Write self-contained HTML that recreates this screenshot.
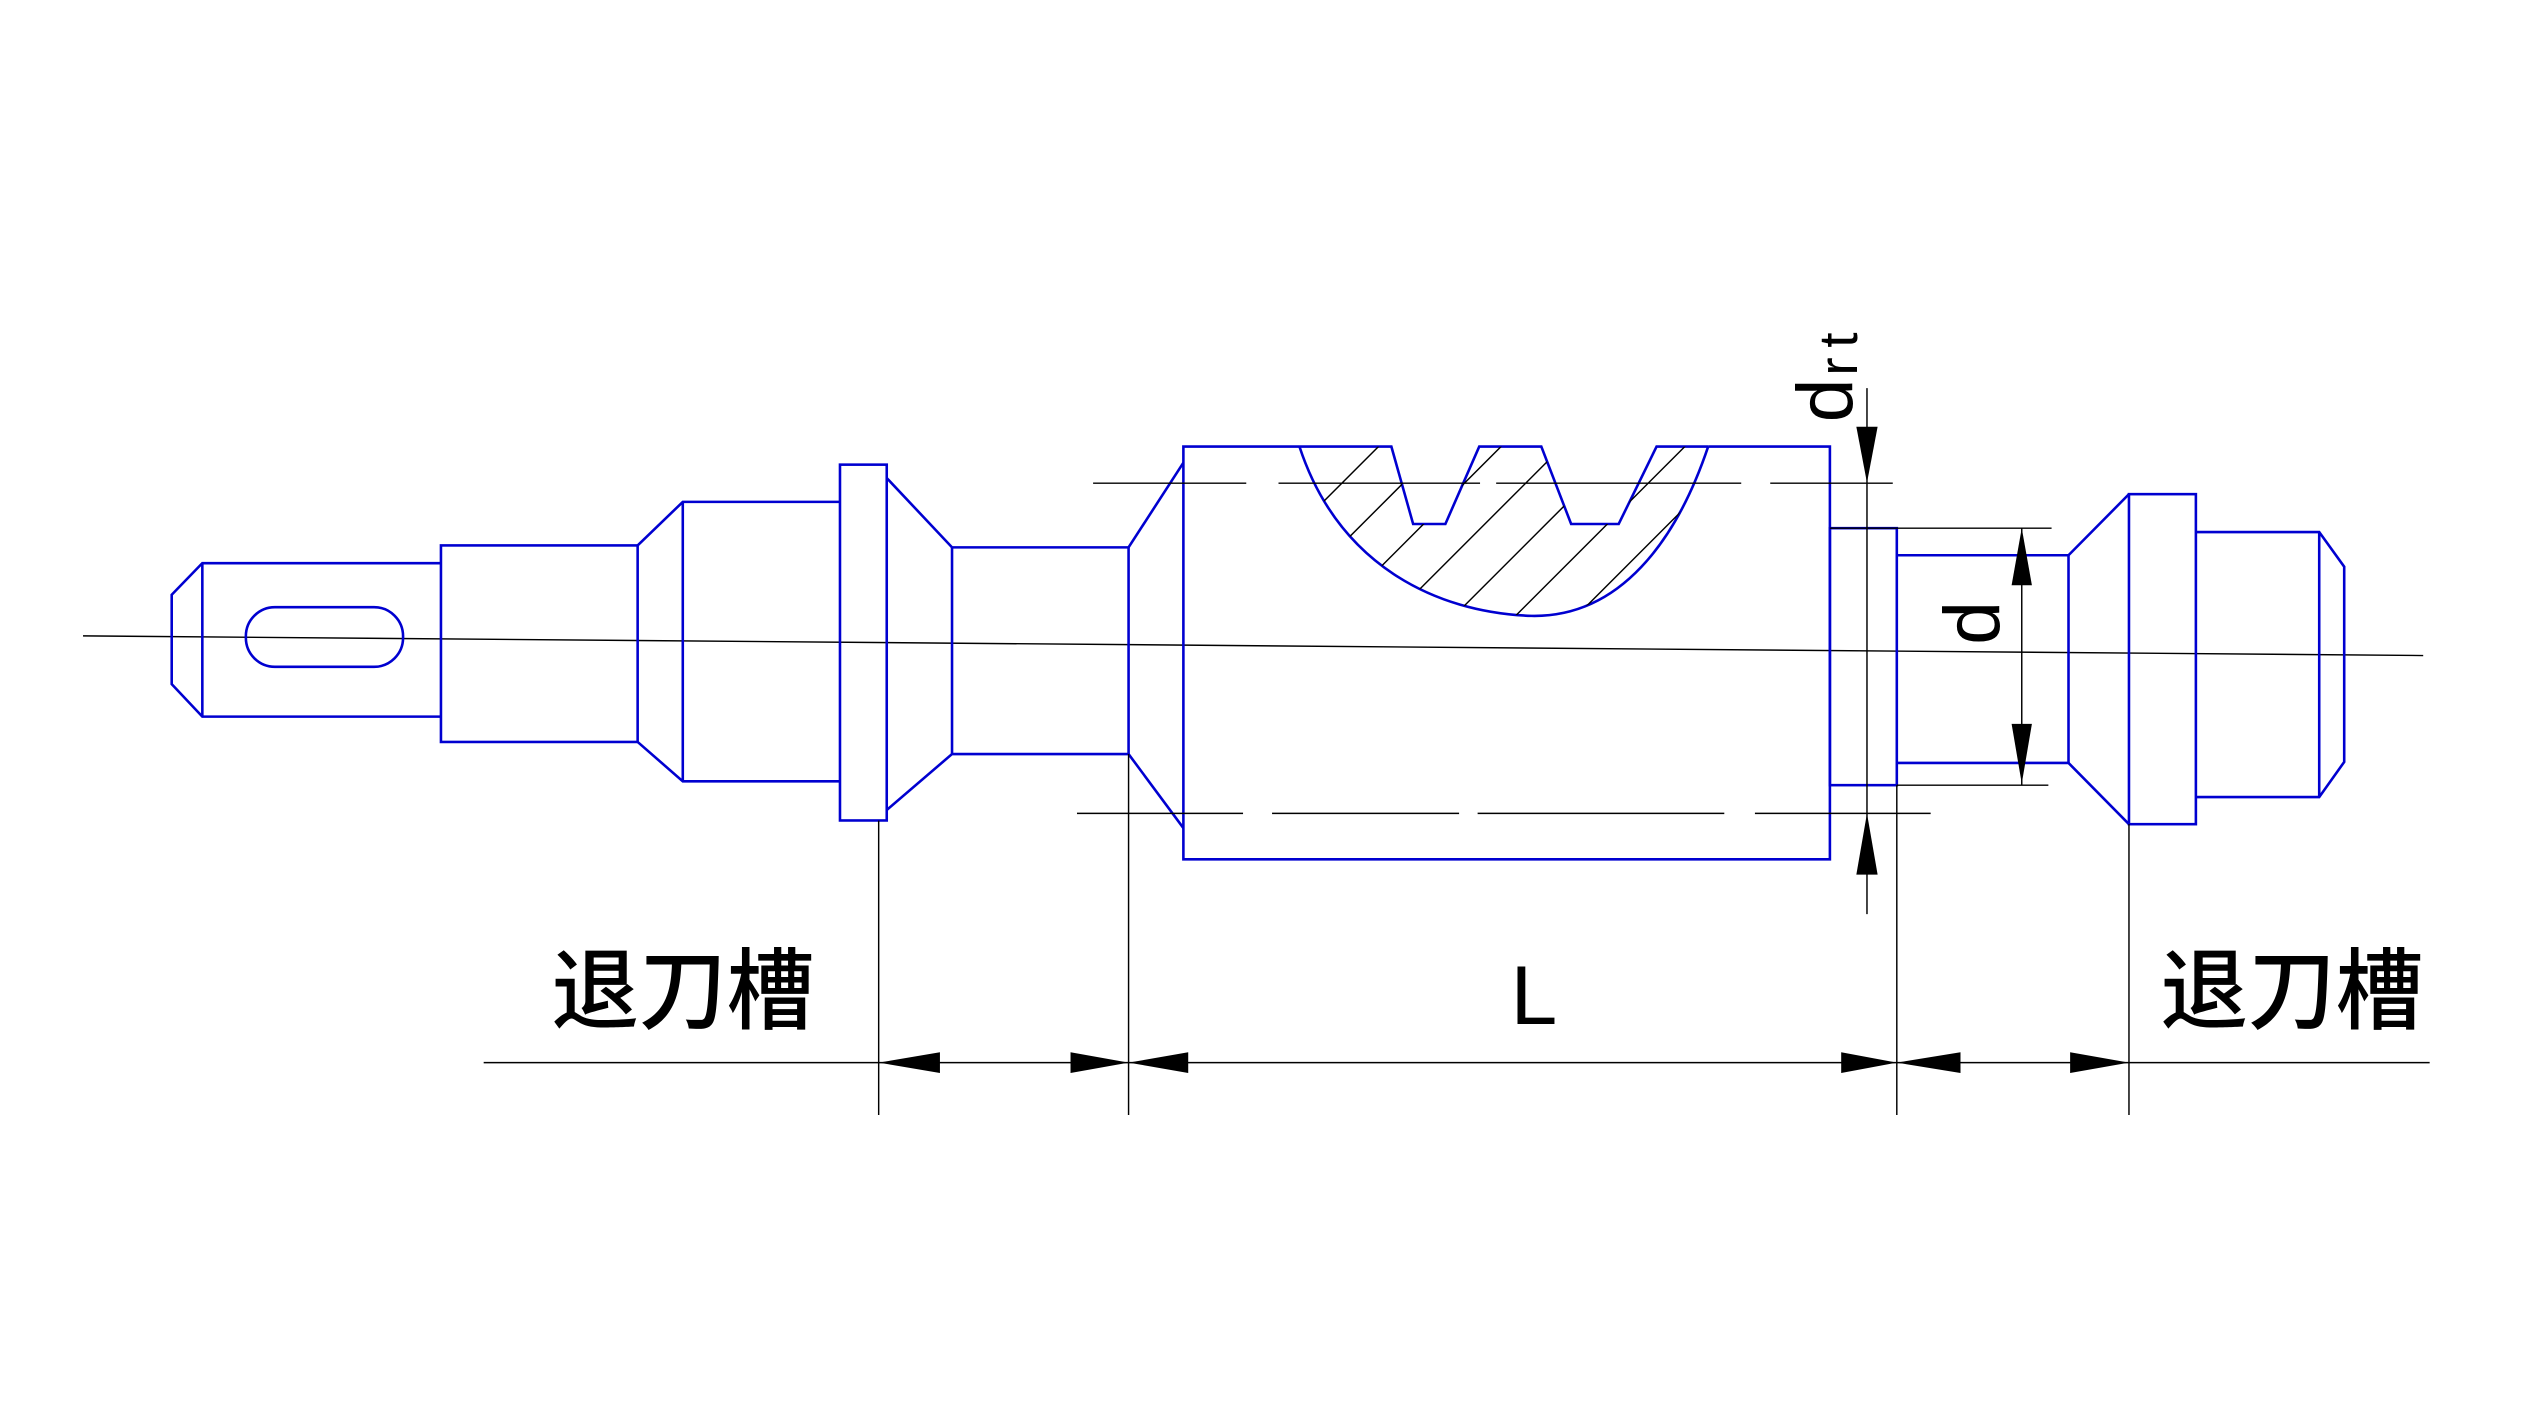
<!DOCTYPE html>
<html><head><meta charset="utf-8"><style>html,body{margin:0;padding:0;background:#fff}svg{display:block}</style></head>
<body>
<svg width="2528" height="1422" viewBox="0 0 1568 882" xmlns="http://www.w3.org/2000/svg">
<rect width="1568" height="882" fill="#fff"/>
<defs>
<clipPath id="sec"><path d="M806,277 L863,277 L876.5,325 L896.5,325 L917.5,277 L956,277 L974.5,325 L1004,325 L1027.5,277 L1059.5,277 C1040,335 1005,383 950,382 C890,380 830,350 806,277 Z"/></clipPath>
</defs>
<line x1="51.5" y1="394.4" x2="1503" y2="406.6" stroke="#000" stroke-width="0.9"/>
<g fill="none" stroke="#0000d0" stroke-width="1.6" stroke-linejoin="miter">
<polyline points="273.5,349.3 125.5,349.3 106.5,368.9 106.5,424.3 125.5,444.5 273.5,444.5"/>
<line x1="125.5" y1="349.3" x2="125.5" y2="444.5"/>
<rect x="152.5" y="376.6" width="97.5" height="37" rx="18" ry="18"/>
<rect x="273.5" y="338.3" width="122" height="121.9"/>
<polyline points="395.5,338.3 423.5,311.3 521,311.3"/>
<polyline points="395.5,460.2 423.5,484.6 521,484.6"/>
<line x1="423.5" y1="311.3" x2="423.5" y2="484.6"/>
<rect x="521" y="288.2" width="29" height="220.7"/>
<polyline points="550,296.5 590.5,339.5 700,339.5 734,287"/>
<polyline points="550,502.4 590.5,467.7 700,467.7 734,513.6"/>
<line x1="590.5" y1="339.5" x2="590.5" y2="467.7"/>
<line x1="700" y1="339.5" x2="700" y2="467.7"/>
<polyline points="806,277 734,277 734,533 1135,533 1135,277 1059.5,277"/>
<polyline points="806,277 863,277 876.5,325 896.5,325 917.5,277 956,277 974.5,325 1004,325 1027.5,277 1059.5,277"/>
<path d="M806,277 C830,350 890,380 950,382 C1005,383 1040,335 1059.5,277"/>
<rect x="1135" y="327.6" width="41.5" height="159.4"/>
<polyline points="1176.5,344.4 1283,344.4 1320.5,306.5"/>
<polyline points="1176.5,473.2 1283,473.2 1320.5,511.2"/>
<line x1="1283" y1="344.4" x2="1283" y2="473.2"/>
<rect x="1320.5" y="306.5" width="41.5" height="204.7"/>
<polyline points="1362,330 1438.5,330 1454,351.5 1454,472.6 1438.5,494.4 1362,494.4"/>
<line x1="1438.5" y1="330" x2="1438.5" y2="494.4"/>
</g>
<g clip-path="url(#sec)" stroke="#000" stroke-width="0.9">
<line x1="1132" y1="0" x2="732" y2="400"/>
<line x1="1170" y1="0" x2="770" y2="400"/>
<line x1="1208" y1="0" x2="808" y2="400"/>
<line x1="1246" y1="0" x2="846" y2="400"/>
<line x1="1284" y1="0" x2="884" y2="400"/>
<line x1="1322" y1="0" x2="922" y2="400"/>
<line x1="1360" y1="0" x2="960" y2="400"/>
<line x1="1398" y1="0" x2="998" y2="400"/>
</g>
<g stroke="#000" stroke-width="0.9" fill="none">
<line x1="678" y1="299.7" x2="773" y2="299.7"/>
<line x1="793" y1="299.7" x2="918" y2="299.7"/>
<line x1="928" y1="299.7" x2="1080" y2="299.7"/>
<line x1="1098" y1="299.7" x2="1174" y2="299.7"/>
<line x1="668" y1="504.5" x2="771" y2="504.5"/>
<line x1="789" y1="504.5" x2="905" y2="504.5"/>
<line x1="916.5" y1="504.5" x2="1069.5" y2="504.5"/>
<line x1="1088.5" y1="504.5" x2="1197.5" y2="504.5"/>
<line x1="1158" y1="240.7" x2="1158" y2="567"/>
<line x1="1135" y1="327.6" x2="1272.5" y2="327.6"/>
<line x1="1176.5" y1="487" x2="1270.5" y2="487"/>
<line x1="1254" y1="327.6" x2="1254" y2="487"/>
<line x1="300" y1="659.1" x2="1507" y2="659.1"/>
<line x1="545" y1="509" x2="545" y2="691.6"/>
<line x1="700" y1="467.7" x2="700" y2="691.6"/>
<line x1="1176.5" y1="487" x2="1176.5" y2="691.6"/>
<line x1="1320.5" y1="511.2" x2="1320.5" y2="691.6"/>
</g>
<g fill="#000">
<polygon points="1158,299.4 1151.4,264.7 1164.6,264.7"/>
<polygon points="1158,504.5 1151.4,542.5 1164.6,542.5"/>
<polygon points="1254,327.6 1247.7,363 1260.3,363"/>
<polygon points="1254,486 1247.7,449 1260.3,449"/>
<polygon points="545,659.1 583,652.7 583,665.5"/>
<polygon points="700,659.1 664,652.7 664,665.5"/>
<polygon points="700,659.1 737,652.7 737,665.5"/>
<polygon points="1176.5,659.1 1142,652.7 1142,665.5"/>
<polygon points="1176.5,659.1 1216,652.7 1216,665.5"/>
<polygon points="1320.5,659.1 1284,652.7 1284,665.5"/>
</g>
<g fill="#000" font-family="'Liberation Sans','Noto Sans CJK SC',sans-serif">
<text x="342" y="634" font-size="55" font-weight="500" textLength="163" lengthAdjust="spacingAndGlyphs">退刀槽</text>
<text x="1340" y="634" font-size="55" font-weight="500" textLength="163" lengthAdjust="spacingAndGlyphs">退刀槽</text>
<text x="937" y="635" font-size="52">L</text>
<text transform="translate(1240,400) rotate(-90)" font-size="49">d</text>
<text transform="translate(1148.7,262) rotate(-90)" font-size="49">d</text>
<text transform="translate(1151.8,233) rotate(-90)" font-size="34" letter-spacing="6">rt</text>
</g>
</svg>
</body></html>
